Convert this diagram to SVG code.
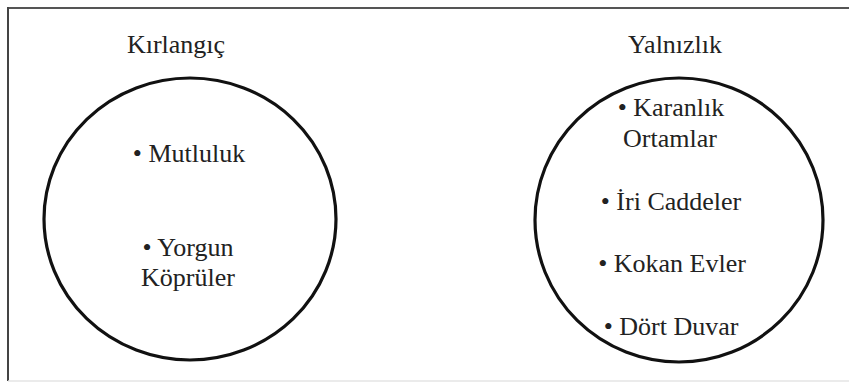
<svg xmlns="http://www.w3.org/2000/svg" width="849" height="382" viewBox="0 0 849 382">
<style>
text{font-family:"Liberation Serif","Times New Roman","DejaVu Serif",serif;font-size:26px;fill:#222;text-anchor:middle}
.c{fill:none;stroke:#111;stroke-width:3.2}
</style>
<rect width="849" height="382" fill="#fff"/>
<g id="frame">
<line x1="8" y1="8" x2="849" y2="8" stroke="#555" stroke-width="2.2"/>
<line x1="8" y1="7" x2="8" y2="381" stroke="#444" stroke-width="2"/>
<line x1="8" y1="381" x2="849" y2="381" stroke="#e4e4e4" stroke-width="1.5"/>
</g>
<g id="kirlangic" font-family="Liberation Serif, serif">
<text x="176" y="53">Kırlangıç</text>
<ellipse class="c" cx="190" cy="219" rx="146" ry="141"/>
<text x="189" y="162">• Mutluluk</text>
<text x="188" y="256">• Yorgun</text>
<text x="188" y="286">Köprüler</text>
</g>
<g id="yalnizlik" font-family="Liberation Serif, serif">
<text x="675" y="53">Yalnızlık</text>
<ellipse class="c" cx="679" cy="220" rx="144" ry="142"/>
<text x="671" y="116">• Karanlık</text>
<text x="670" y="147">Ortamlar</text>
<text x="671" y="210">• İri Caddeler</text>
<text x="672" y="272">• Kokan Evler</text>
<text x="671" y="335">• Dört Duvar</text>
</g>
</svg>
